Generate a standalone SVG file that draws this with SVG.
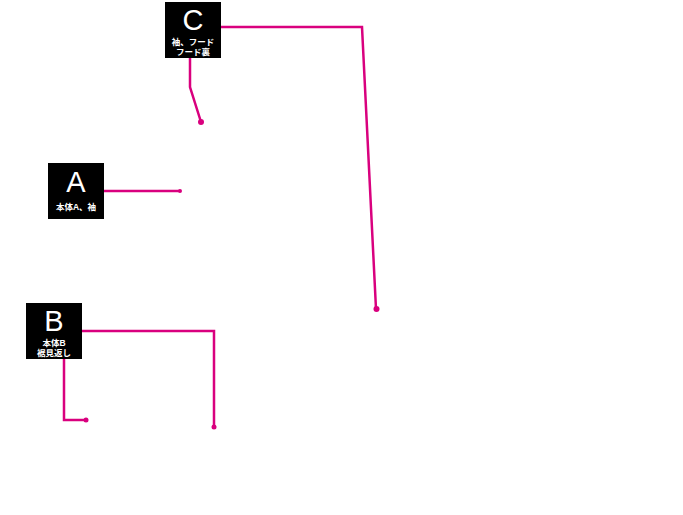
<svg xmlns="http://www.w3.org/2000/svg" width="683" height="515" viewBox="0 0 683 515">
<style>
.box{fill:#000}
.big{font-family:"Liberation Sans",sans-serif;font-size:29px;fill:#fff;text-anchor:middle}
.sm{font-family:"Liberation Sans","Noto Sans CJK JP",sans-serif;font-size:8.5px;font-weight:bold;fill:#fff;text-anchor:middle}
.ln{fill:none;stroke:#D9007E;stroke-width:2.5;stroke-linejoin:miter}
.dot{fill:#D9007E}
</style>
<rect width="683" height="515" fill="#fff"/>
<g id="connectors">
<polyline class="ln" points="221,27 362,27 376,309"/>
<circle class="dot" cx="376.5" cy="309" r="3"/>
<polyline class="ln" points="190,58 190,87 201,122"/>
<circle class="dot" cx="201" cy="122" r="3"/>
<polyline class="ln" points="104,191 180,191"/>
<circle class="dot" cx="180" cy="191" r="2"/>
<polyline class="ln" points="82,331 214,331 214,427"/>
<circle class="dot" cx="214" cy="427" r="2.5"/>
<polyline class="ln" points="64,359 64,420 86,420"/>
<circle class="dot" cx="86" cy="420" r="2.5"/>
</g>
<g id="node-C">
<rect class="box" x="165" y="2" width="56" height="56"/>
<text class="big" x="193" y="29.5">C</text>
<text class="sm" x="193" y="44.5">袖、フード</text>
<text class="sm" x="193" y="54.5">フード裏</text>
</g>
<g id="node-A">
<rect class="box" x="48" y="163" width="56" height="56"/>
<text class="big" x="76" y="191.5">A</text>
<text class="sm" x="76" y="210">本体A、袖</text>
</g>
<g id="node-B">
<rect class="box" x="26" y="303" width="56" height="56"/>
<text class="big" x="54" y="331">B</text>
<text class="sm" x="54" y="345.5">本体B</text>
<text class="sm" x="54" y="355.5">裾見返し</text>
</g>
</svg>
